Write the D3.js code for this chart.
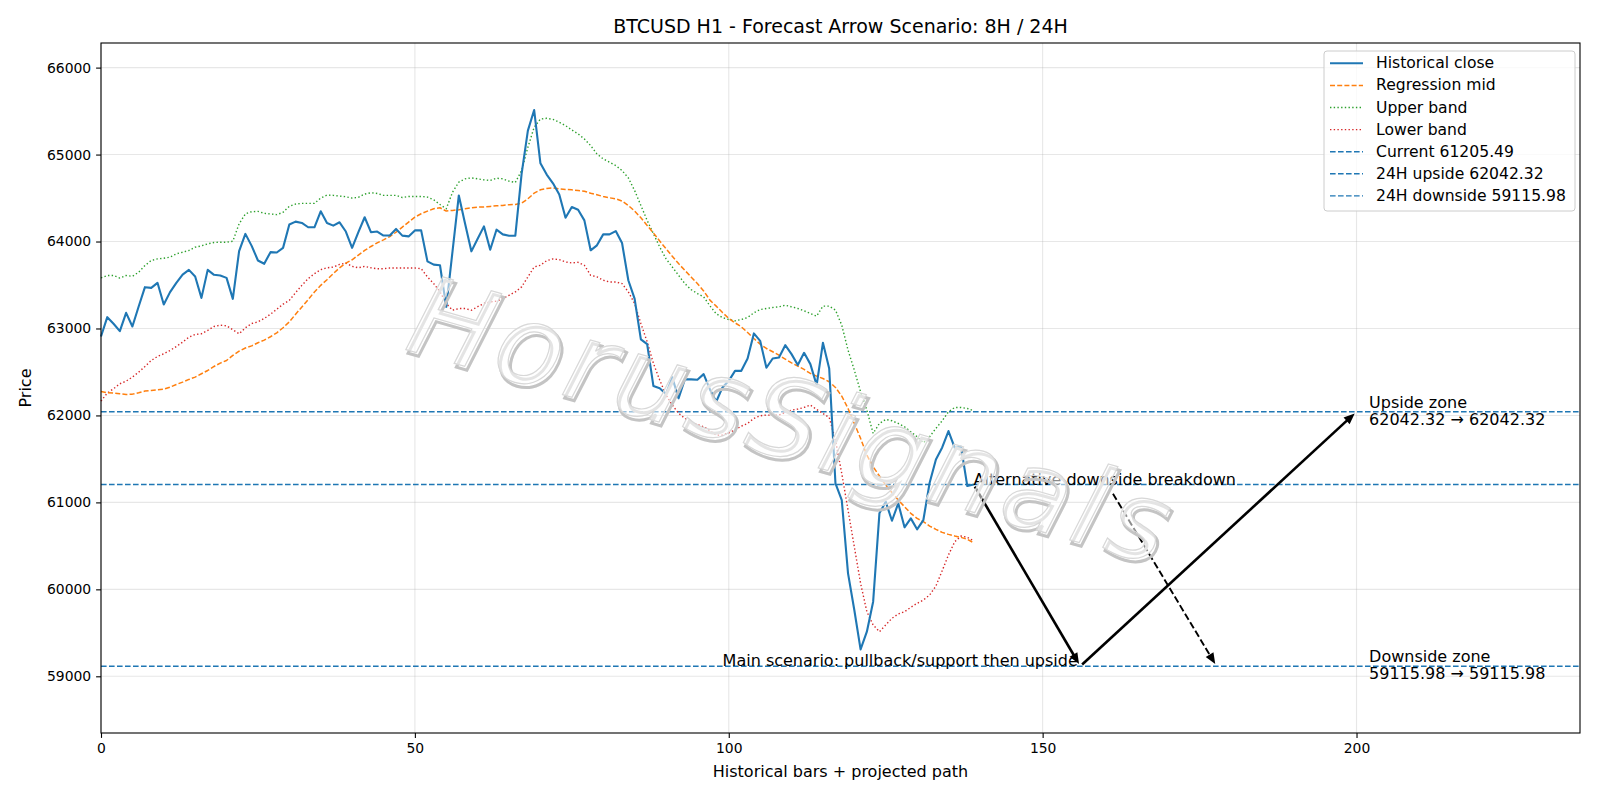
<!DOCTYPE html>
<html>
<head>
<meta charset="utf-8">
<title>BTCUSD H1 - Forecast Arrow Scenario</title>
<style>
body { margin: 0; background: #fff; }
svg text { font-family: "DejaVu Sans", sans-serif; fill: #000; }
.grid line { stroke: #b0b0b0; stroke-opacity: 0.3; stroke-width: 1.1px; }
.axis path, .axis line { stroke: #000; stroke-width: 1.1px; }
.axis text { font-size: 13.9px; }
</style>
</head>
<body>
<div id="chart"></div>
<script src="https://cdn.jsdelivr.net/npm/d3@7/dist/d3.min.js"></script>
<script>

// historical closes, bars 0..139
const close = [
62908, 63130, 63054, 62970, 63180, 63023, 63253, 63475, 63467, 63525,
63276, 63418, 63525, 63620, 63674, 63598, 63352, 63674, 63617, 63609,
63582, 63341, 63889, 64088, 63950, 63782, 63744, 63878, 63874, 63927,
64195, 64229, 64214, 64164, 64164, 64347, 64214, 64183, 64221, 64115,
63927, 64107, 64279, 64107, 64115, 64069, 64069, 64145, 64068, 64059,
64128, 64128, 63772, 63734, 63727, 63249, 63890, 64530, 64205, 63887,
64032, 64174, 63906, 64136, 64082, 64067, 64067, 64778, 65275, 65512,
64900, 64770, 64670, 64541, 64273, 64396, 64365, 64243, 63899, 63956,
64082, 64082, 64120, 63983, 63555, 63344, 62874, 62820, 62338, 62312,
62247, 62438, 62197, 62415, 62415, 62410, 62475, 62299, 62157, 62322,
62398, 62513, 62513, 62655, 62943, 62858, 62548, 62655, 62667, 62808,
62705, 62579, 62720, 62590, 62349, 62835, 62540, 61218, 61027, 60184,
59762, 59310, 59513, 59858, 60874, 61008, 60789, 60989, 60713, 60816,
60690, 60797, 61226, 61494, 61632, 61820, 61628, 61640, 61188, 61205.49
]

const regMid = [
62276, 62261, 62257, 62249, 62241, 62245, 62261, 62280, 62287, 62295,
62303, 62326, 62356, 62383, 62414, 62441, 62479, 62517, 62563, 62602,
62632, 62690, 62740, 62775, 62800, 62836, 62866, 62905, 62950, 63008,
63076, 63164, 63248, 63332, 63420, 63496, 63561, 63630, 63698, 63752,
63790, 63844, 63897, 63943, 63985, 64019, 64057, 64107, 64166, 64224,
64281, 64319, 64350, 64377, 64388, 64350, 64358, 64365, 64377, 64388,
64396, 64396, 64403, 64411, 64415, 64423, 64426, 64442, 64491, 64556,
64595, 64610, 64616, 64606, 64598, 64595, 64587, 64579, 64556, 64537,
64518, 64503, 64491, 64465, 64415, 64350, 64273, 64185, 64098, 64006,
63918, 63830, 63746, 63669, 63593, 63516, 63432, 63326, 63257, 63184,
63115, 63065, 63019, 62954, 62885, 62820, 62770, 62732, 62693, 62648,
62605, 62567, 62529, 62483, 62452, 62425, 62387, 62322, 62222, 62080,
61908, 61736, 61544, 61410, 61303, 61199, 61111, 61027, 60950, 60874,
60816, 60778, 60728, 60690, 60655, 60632, 60613, 60598, 60575, 60536
]

const upperBand = [
63582, 63609, 63609, 63580, 63609, 63600, 63647, 63724, 63782, 63800,
63808, 63820, 63858, 63877, 63897, 63935, 63950, 63973, 63989, 63992,
63992, 64004, 64203, 64318, 64343, 64347, 64324, 64317, 64309, 64336,
64405, 64431, 64439, 64439, 64439, 64500, 64534, 64531, 64523, 64515,
64500, 64508, 64546, 64561, 64553, 64531, 64531, 64531, 64506, 64518,
64518, 64518, 64511, 64480, 64426, 64377, 64568, 64683, 64721, 64732,
64721, 64709, 64702, 64728, 64721, 64694, 64679, 64816, 65084, 65314,
65409, 65417, 65405, 65371, 65333, 65283, 65237, 65180, 65103, 65008,
64950, 64912, 64874, 64816, 64732, 64587, 64415, 64243, 64090, 63937,
63803, 63707, 63612, 63516, 63447, 63402, 63363, 63260, 63170, 63125,
63103, 63088, 63103, 63126, 63180, 63218, 63230, 63241, 63249, 63268,
63249, 63230, 63203, 63172, 63142, 63257, 63257, 63211, 63038, 62751,
62521, 62272, 62061, 61793, 61908, 61954, 61939, 61908, 61870, 61812,
61755, 61686, 61755, 61851, 61939, 62042, 62092, 62092, 62080, 62054
]

const lowerBand = [
62165, 62257, 62307, 62364, 62395, 62441, 62498, 62563, 62632, 62678,
62709, 62747, 62793, 62843, 62900, 62931, 62939, 62977, 63023, 63038,
63031, 62985, 62939, 63008, 63057, 63076, 63115, 63164, 63221, 63279,
63324, 63412, 63496, 63573, 63630, 63676, 63698, 63706, 63737, 63752,
63714, 63698, 63714, 63698, 63687, 63687, 63695, 63695, 63696, 63696,
63696, 63688, 63593, 63516, 63423, 63287, 63210, 63229, 63229, 63210,
63250, 63287, 63306, 63314, 63344, 63382, 63420, 63478, 63593, 63707,
63727, 63780, 63800, 63792, 63765, 63753, 63761, 63727, 63612, 63593,
63555, 63535, 63535, 63516, 63421, 63287, 63057, 62847, 62598, 62407,
62235, 62120, 62025, 61967, 61918, 61895, 61870, 61824, 61774, 61774,
61801, 61831, 61877, 61908, 61966, 61996, 62004, 62004, 62004, 62034,
62061, 62073, 62092, 62119, 62069, 62023, 61977, 61716, 61333, 60912,
60490, 60069, 59743, 59590, 59513, 59590, 59667, 59716, 59743, 59793,
59839, 59877, 59935, 60038, 60215, 60395, 60548, 60613, 60598, 60559
]

const currentPrice = 61205.49
const upsideTarget = 62042.32
const downsideTarget = 59115.98

// projected scenario: bar, price
const mainPath = [[139, currentPrice], [156, downsideTarget], [200, upsideTarget]]
const altPath = [[161, 61125], [177.7, downsideTarget]]

const xTicks = [0, 50, 100, 150, 200]
const yTicks = [59000, 60000, 61000, 62000, 63000, 64000, 65000, 66000]

const legendItems = [
    {label: "Historical close", color: "#1f77b4", width: 2.1, dash: null},
    {label: "Regression mid", color: "#ff7f0e", width: 1.5, dash: "5,2.2"},
    {label: "Upper band", color: "#2ca02c", width: 1.4, dash: "1.4,2.3"},
    {label: "Lower band", color: "#d62728", width: 1.4, dash: "1.4,2.3"},
    {label: "Current " + currentPrice.toFixed(2), color: "#1f77b4", width: 1.4, dash: "5.6,2.4"},
    {label: "24H upside " + upsideTarget.toFixed(2), color: "#1f77b4", width: 1.4, dash: "5.6,2.4"},
    {label: "24H downside " + downsideTarget.toFixed(2), color: "#1f77b4", width: 1.4, dash: "5.6,2.4"}
]

const margin = {top: 43, right: 20, bottom: 67, left: 101}
const width = 1600 - margin.left - margin.right
const height = 800 - margin.top - margin.bottom

const x = d3.scaleLinear().domain([0, 235.6]).range([0, width])
const y = d3.scaleLinear().domain([58348, 66283]).range([height, 0])

const root = d3.select("#chart").append("svg")
    .attr("width", 1600)
    .attr("height", 800)
root.append("rect").attr("width", 1600).attr("height", 800).attr("fill", "#fff")

const svg = root.append("g")
    .attr("transform", "translate(" + margin.left + "," + margin.top + ")")

// grid
svg.append("g").attr("class", "grid")
    .selectAll("line").data(xTicks).join("line")
    .attr("x1", d => x(d)).attr("x2", d => x(d))
    .attr("y1", 0).attr("y2", height)
svg.append("g").attr("class", "grid")
    .selectAll("line").data(yTicks).join("line")
    .attr("x1", 0).attr("x2", width)
    .attr("y1", d => y(d)).attr("y2", d => y(d))

// level lines
const levels = [currentPrice, upsideTarget, downsideTarget]
svg.selectAll(".level").data(levels).join("line")
    .attr("class", "level")
    .attr("x1", 0).attr("x2", width)
    .attr("y1", d => y(d)).attr("y2", d => y(d))
    .attr("stroke", "#1f77b4")
    .attr("stroke-width", 1.4)
    .attr("stroke-dasharray", "5.6,2.4")

const line = d3.line().x((d, i) => x(i)).y(d => y(d))

const series = [
    {data: upperBand, color: "#2ca02c", width: 1.4, dash: "1.4,2.3"},
    {data: lowerBand, color: "#d62728", width: 1.4, dash: "1.4,2.3"},
    {data: regMid, color: "#ff7f0e", width: 1.5, dash: "5,2.2"},
    {data: close, color: "#1f77b4", width: 2.1, dash: null}
]
series.forEach(s => {
    svg.append("path")
        .datum(s.data)
        .attr("d", line)
        .attr("fill", "none")
        .attr("stroke", s.color)
        .attr("stroke-width", s.width)
        .attr("stroke-dasharray", s.dash)
        .attr("stroke-linejoin", "round")
})

// arrows
const drawArrow = (p0, p1, dash, lw) => {
    let x0 = x(p0[0]), y0 = y(p0[1]), x1 = x(p1[0]), y1 = y(p1[1])
    const len = Math.hypot(x1 - x0, y1 - y0)
    const ux = (x1 - x0) / len, uy = (y1 - y0) / len
    // shrink both ends a little like matplotlib
    x0 += ux * 2.5; y0 += uy * 2.5
    x1 -= ux * 2.5; y1 -= uy * 2.5
    const hl = 11, hw = 4.5
    svg.append("line")
        .attr("x1", x0).attr("y1", y0)
        .attr("x2", x1 - ux * hl * 0.8).attr("y2", y1 - uy * hl * 0.8)
        .attr("stroke", "#000")
        .attr("stroke-width", lw)
        .attr("stroke-dasharray", dash)
    const bx = x1 - ux * hl, by = y1 - uy * hl
    svg.append("path")
        .attr("d", "M" + x1 + "," + y1 +
            "L" + (bx - uy * hw) + "," + (by + ux * hw) +
            "L" + (bx + uy * hw) + "," + (by - ux * hw) + "Z")
        .attr("fill", "#000")
}
drawArrow(mainPath[0], mainPath[1], null, 2.6)
drawArrow(mainPath[1], mainPath[2], null, 2.6)
drawArrow(altPath[0], altPath[1], "7,3", 1.9)

// annotation texts
svg.append("text")
    .attr("x", x(139)).attr("y", y(currentPrice))
    .style("font-size", "16px")
    .text("Alternative downside breakdown")
svg.append("text")
    .attr("x", x(155.6)).attr("y", y(downsideTarget))
    .attr("text-anchor", "end")
    .style("font-size", "16px")
    .text("Main scenario: pullback/support then upside")

const zones = [
    {name: "Upside zone", v: upsideTarget},
    {name: "Downside zone", v: downsideTarget}
]
zones.forEach(z => {
    const t = svg.append("text")
        .attr("x", x(202)).attr("y", y(z.v))
        .style("font-size", "16px")
    t.append("tspan").attr("x", x(202)).attr("dy", "-0.26em").text(z.name)
    t.append("tspan").attr("x", x(202)).attr("dy", "1.08em")
        .text(z.v.toFixed(2) + " \u2192 " + z.v.toFixed(2))
})

// axes
svg.append("g").attr("class", "axis")
    .attr("transform", "translate(0," + height + ")")
    .call(d3.axisBottom(x).tickValues(xTicks).tickSize(4.9).tickPadding(4.9).tickFormat(d3.format("d")))
    .call(g => g.select(".domain").remove())
svg.append("g").attr("class", "axis")
    .call(d3.axisLeft(y).tickValues(yTicks).tickSize(4.9).tickPadding(4.9).tickFormat(d3.format("d")))
    .call(g => g.select(".domain").remove())

svg.append("rect")
    .attr("width", width).attr("height", height)
    .attr("fill", "none").attr("stroke", "#000").attr("stroke-width", 1.1)

// labels
root.append("text")
    .attr("x", margin.left + width / 2).attr("y", 33)
    .attr("text-anchor", "middle")
    .style("font-size", "19px")
    .text("BTCUSD H1 - Forecast Arrow Scenario: 8H / 24H")
root.append("text")
    .attr("x", margin.left + width / 2).attr("y", 777)
    .attr("text-anchor", "middle")
    .style("font-size", "16px")
    .text("Historical bars + projected path")
root.append("text")
    .attr("transform", "translate(31," + (margin.top + height / 2) + ") rotate(-90)")
    .attr("text-anchor", "middle")
    .style("font-size", "16px")
    .text("Price")

// legend
const lg = root.append("g").attr("transform", "translate(1324,51)")
lg.append("rect")
    .attr("width", 251).attr("height", 160)
    .attr("rx", 3)
    .attr("fill", "#fff").attr("fill-opacity", 0.8)
    .attr("stroke", "#cccccc").attr("stroke-width", 1)
legendItems.forEach((d, i) => {
    const cy = 12.3 + i * 22.1
    lg.append("line")
        .attr("x1", 6).attr("x2", 39)
        .attr("y1", cy).attr("y2", cy)
        .attr("stroke", d.color)
        .attr("stroke-width", d.width)
        .attr("stroke-dasharray", d.dash)
    lg.append("text")
        .attr("x", 52).attr("y", cy)
        .attr("dominant-baseline", "central")
        .style("font-size", "15.6px")
        .text(d.label)
})

// watermark
const wm = root.append("g").attr("transform", "translate(793,421) rotate(16)")
wm.append("text")
    .attr("x", 3).attr("y", 3)
    .attr("text-anchor", "middle")
    .attr("dominant-baseline", "central")
    .style("font-size", "110px").style("font-style", "italic")
    .style("letter-spacing", "6px")
    .style("fill", "none")
    .style("stroke", "#c4c4c4").style("stroke-width", 3)
    .text("HorusSignals")
wm.append("text")
    .attr("text-anchor", "middle")
    .attr("dominant-baseline", "central")
    .style("font-size", "110px").style("font-style", "italic")
    .style("letter-spacing", "6px")
    .style("fill", "#ffffff").style("fill-opacity", 0.55)
    .style("stroke", "#d8d8d8").style("stroke-width", 1.2)
    .text("HorusSignals")
</script>
</body>
</html>
